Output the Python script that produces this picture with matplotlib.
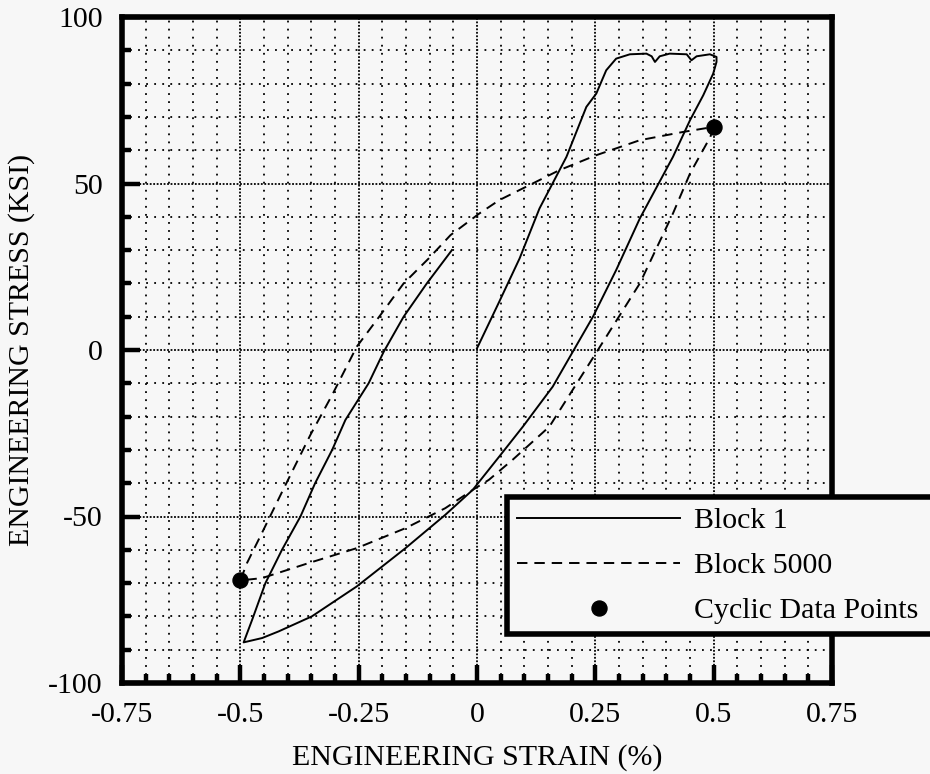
import matplotlib
matplotlib.use("Agg")
import matplotlib.pyplot as plt
from matplotlib.ticker import MultipleLocator, FixedLocator

plt.rcParams['font.family'] = ['Liberation Serif', 'DejaVu Serif']
plt.rcParams['lines.scale_dashes'] = False

# Block 1 hysteresis (strain %, stress ksi)
block1_strain = [0.0, 0.047, 0.09, 0.132, 0.189, 0.231, 0.252, 0.273, 0.294, 0.323,
                 0.358, 0.369, 0.376, 0.386, 0.407, 0.443, 0.453, 0.464, 0.492, 0.506,
                 0.506, 0.499, 0.478, 0.45, 0.414, 0.344, 0.294, 0.245, 0.2025, 0.16,
                 0.097, 0.047, -0.009, -0.067, -0.151, -0.254, -0.349, -0.419, -0.454,
                 -0.493, -0.475, -0.447, -0.412, -0.373, -0.342, -0.306, -0.278, -0.229,
                 -0.197, -0.155, -0.106, -0.053]
block1_stress = [0.5, 14.5, 27.5, 42.5, 58, 73, 77, 84, 87.5, 88.8,
                 89, 88.2, 86.5, 88.2, 89, 88.8, 87, 88.2, 88.8, 88,
                 86.5, 83, 76.5, 69, 58, 39.5, 24, 10, -0.5, -11,
                 -23, -32, -42, -49.5, -59.5, -71, -80, -84.5, -86.5,
                 -87.8, -81, -70, -60, -50, -40, -30, -21, -10,
                 -0.5, 10, 20, 30]

# Block 5000 stabilised loop
block5000_strain = [0.5, 0.493, 0.45, 0.414, 0.379, 0.344, 0.251, 0.153, 0.075, 0.025,
                    -0.009, -0.067, -0.151, -0.254, -0.356, -0.454, -0.5, -0.486, -0.458,
                    -0.408, -0.352, -0.306, -0.254, -0.204, -0.155, -0.102, -0.056, 0.005,
                    0.047, 0.174, 0.252, 0.344, 0.436, 0.5]
block5000_stress = [67, 64, 53, 41, 30.5, 20, -1, -23, -33, -39,
                    -42, -47.5, -53.5, -59.5, -64, -68.5, -69.2, -64, -56,
                    -41.5, -25.5, -13.5, 1, 10.5, 20, 27.5, 34.5, 41,
                    45, 54, 58.5, 63, 65.5, 67]

# Cyclic data points
cyclic_strain = [0.5, -0.5]
cyclic_stress = [67, -69.2]

x_ticks = [-0.75, -0.5, -0.25, 0, 0.25, 0.5, 0.75]
x_tick_labels = ['-0.75', '-0.5', '-0.25', '0', '0.25', '0.5', '0.75']
y_ticks = [-100, -50, 0, 50, 100]
y_tick_labels = ['-100', '-50', '0', '50', '100']

bg = '#f7f7f7'
fs = 21.5

fig = plt.figure(figsize=(9.3, 7.74), dpi=100, facecolor=bg)
ax = fig.add_axes([122 / 930, 91 / 774, 710 / 930, 666 / 774], facecolor=bg)

ax.set_xlim(-0.75, 0.75)
ax.set_ylim(-100, 100)

ax.xaxis.set_major_locator(FixedLocator(x_ticks))
ax.set_xticklabels(x_tick_labels)
ax.yaxis.set_major_locator(FixedLocator(y_ticks))
ax.set_yticklabels(y_tick_labels)
ax.xaxis.set_minor_locator(MultipleLocator(0.05))
ax.yaxis.set_minor_locator(MultipleLocator(10))

# dotted grid: dense dots on major lines, sparse dots on minor lines
ax.grid(which='major', color='black', linewidth=1.3, linestyle=(0, (1.3, 1.2)))
ax.grid(which='minor', color='black', linewidth=1.3, linestyle=(0, (1.3, 4.5)))
ax.set_axisbelow(True)

for side in ax.spines.values():
    side.set_linewidth(4)
    side.set_color('black')

ax.tick_params(which='both', direction='in', top=False, right=False, color='black')
ax.tick_params(which='major', length=13, width=3.2, labelsize=fs, pad=14)
ax.tick_params(which='minor', length=6.5, width=3.2)

ax.plot(block1_strain, block1_stress, color='black', linewidth=1.4,
        solid_joinstyle='round', label='Block 1', zorder=3)
ax.plot(block5000_strain, block5000_stress, color='black', linewidth=1.4,
        linestyle=(0, (7.5, 5)), label='Block 5000', zorder=3)
ax.plot(cyclic_strain, cyclic_stress, linestyle='none', marker='o', markersize=10.8,
        color='black', label='Cyclic Data Points', zorder=4)

ax.set_xlabel('ENGINEERING STRAIN (%)', fontsize=fs, va='center')
ax.set_ylabel('ENGINEERING STRESS (KSI)', fontsize=fs, va='center')
ax.xaxis.set_label_coords(0.5, -0.112)
ax.yaxis.set_label_coords(-0.141, 0.5)

# legend box runs off the right edge of the figure
leg = ax.legend(loc='upper left',
                bbox_to_anchor=(507 / 930, 1 - 630 / 774, 440 / 930, 133 / 774),
                bbox_transform=fig.transFigure, mode='expand', borderaxespad=0,
                fontsize=fs, handlelength=5.45, handletextpad=0.47, labelspacing=0.6,
                borderpad=0.35, numpoints=1, fancybox=False, framealpha=1,
                facecolor=bg, edgecolor='black')
leg.get_frame().set_linewidth(4)
leg.set_zorder(5)

fig.savefig('out.png', dpi=100, facecolor=bg)
